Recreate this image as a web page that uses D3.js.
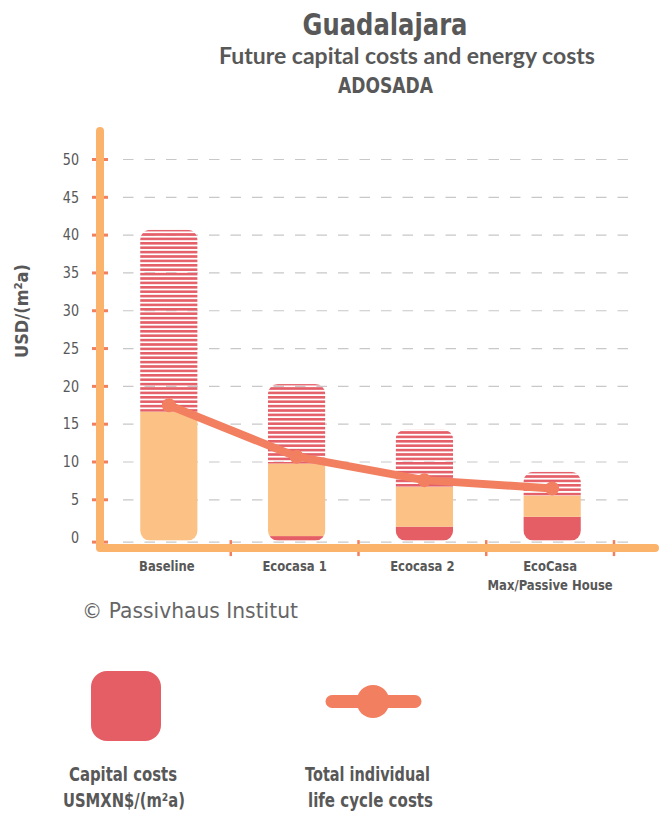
<!DOCTYPE html>
<html>
<head>
<meta charset="utf-8">
<script src="https://cdn.jsdelivr.net/npm/d3@7/dist/d3.min.js"></script>
<style>
  html, body { margin: 0; padding: 0; background: #fff; }
  svg { display: block; }
  text { font-family: "DejaVu Sans", sans-serif; fill: #585858; }
  .lato { font-family: Lato, "DejaVu Sans", sans-serif; }
</style>
</head>
<body>
<svg id="chart" width="661" height="814"></svg>
<script>
// ---------- data ----------
const categories = ["Baseline", "Ecocasa 1", "Ecocasa 2", "EcoCasa\nMax/Passive House"];
const capitalCosts = [0, 0.2, 1.45, 2.75];          // solid red segment
const otherCosts   = [16.65, 9.6, 5.25, 2.8];        // light orange segment
const energyCosts  = [24.05, 10.5, 7.6, 3.15];       // striped segment
const lifeCycleCosts = [17.5, 10.7, 7.6, 6.5];       // line
const yTicks = [0, 5, 10, 15, 20, 25, 30, 35, 40, 45, 50];

const colors = {
  capital: "#E55E65",
  other: "#FBC185",
  energy: "#E45F68",
  line: "#F27F60",
  axis: "#FBB36B",
  tick: "#F2805F",
  grid: "#C8C8C8"
};

const svg = d3.select("#chart");
const defs = svg.append("defs");

// scales
const y = d3.scaleLinear().domain([0, 50]).range([537.6, 159.5]);
const x = d3.scaleBand().domain(categories).range([103, 614]).paddingInner(0).paddingOuter(0);
const barW = x.bandwidth() * 0.45;
const zeroShift = 4.5;

// stripe pattern
const pat = defs.append("pattern")
  .attr("id", "stripes")
  .attr("patternUnits", "userSpaceOnUse")
  .attr("width", 8).attr("height", 4.4);
pat.append("rect").attr("x", 0).attr("y", 0).attr("width", 8).attr("height", 2.6).attr("fill", colors.energy);

// helpers: fixed length / condensed text
function fitText(sel, len) {
  sel.attr("textLength", len).attr("lengthAdjust", "spacingAndGlyphs");
  return sel;
}
function condense(sel, f) {
  sel.each(function() {
    const n = this.getComputedTextLength();
    d3.select(this).attr("textLength", n * f).attr("lengthAdjust", "spacingAndGlyphs");
  });
  return sel;
}

// ---------- titles ----------
fitText(svg.append("text").attr("x", 385).attr("y", 35).attr("text-anchor", "middle")
  .style("font-size", "30px").style("font-weight", "bold").text("Guadalajara"), 165);
svg.append("text").attr("class", "lato").attr("x", 407).attr("y", 64).attr("text-anchor", "middle")
  .style("font-size", "23px").style("font-weight", "bold")
  .text("Future capital costs and energy costs");
fitText(svg.append("text").attr("x", 385.5).attr("y", 93).attr("text-anchor", "middle")
  .style("font-size", "21px").style("font-weight", "bold").text("ADOSADA"), 95);

// ---------- gridlines ----------
const gy = v => v === 0 ? y(0) + zeroShift : y(v);
svg.append("g").selectAll("line").data(yTicks).join("line")
  .attr("x1", 123).attr("x2", 632)
  .attr("y1", gy).attr("y2", gy)
  .attr("stroke", colors.grid).attr("stroke-width", 1.2)
  .attr("stroke-dasharray", "10.5,11");

// ---------- bars ----------
const bars = categories.map((c, i) => {
  const c0 = capitalCosts[i], c1 = c0 + otherCosts[i], c2 = c1 + energyCosts[i];
  return { c, i, segs: [
    { from: 0, to: c0, fill: colors.capital },
    { from: c0, to: c1, fill: colors.other },
    { from: c1, to: c2, fill: "url(#stripes)" }
  ], total: c2 };
});

bars.forEach(b => {
  const bx = x(b.c) + (x.bandwidth() - barW) / 2 + 2;
  const bottom = y(0) + 3;
  defs.append("clipPath").attr("id", "clip" + b.i)
    .append("rect")
    .attr("x", bx).attr("y", y(b.total))
    .attr("width", barW).attr("height", bottom - y(b.total))
    .attr("rx", 10).attr("ry", 10);
  const g = svg.append("g").attr("clip-path", `url(#clip${b.i})`);
  b.segs.forEach(s => {
    if (s.to - s.from <= 0) return;
    const top = y(s.to);
    const bot = s.from === 0 ? bottom : y(s.from);
    g.append("rect").attr("x", bx).attr("y", top)
      .attr("width", barW).attr("height", bot - top)
      .attr("fill", s.fill);
  });
});

// ---------- axes ----------
svg.append("g").selectAll("line").data(yTicks).join("line")
  .attr("x1", 92).attr("x2", 108)
  .attr("y1", gy).attr("y2", gy)
  .attr("stroke", colors.tick).attr("stroke-width", 3);
condense(svg.append("g").selectAll("text").data(yTicks).join("text")
  .attr("x", 79).attr("y", d => y(d)).attr("dy", "0.35em")
  .attr("text-anchor", "end")
  .style("font-size", "15px")
  .text(d => d), 0.85);

// x ticks (band boundaries)
svg.append("g").selectAll("line").data(categories).join("line")
  .attr("x1", d => x(d) + x.bandwidth()).attr("x2", d => x(d) + x.bandwidth())
  .attr("y1", y(0) + 2.5).attr("y2", y(0) + 18.5)
  .attr("stroke", colors.tick).attr("stroke-width", 2.5);

// axis lines
svg.append("path")
  .attr("d", `M100,131 L100,${y(0) + 10.4} L655,${y(0) + 10.4}`)
  .attr("fill", "none").attr("stroke", colors.axis).attr("stroke-width", 8)
  .attr("stroke-linecap", "round").attr("stroke-linejoin", "round");

// x labels
categories.forEach(d => {
  d.split("\n").forEach((p, j) => {
    condense(svg.append("text")
      .attr("x", x(d) + x.bandwidth() / 2)
      .attr("y", 571 + j * 19)
      .attr("text-anchor", "middle")
      .style("font-size", "13.5px").style("font-weight", "bold")
      .text(p), 0.86);
  });
});

// y label
condense(svg.append("text")
  .attr("transform", "translate(28,311) rotate(-90)")
  .attr("text-anchor", "middle")
  .style("font-size", "18px").style("font-weight", "bold")
  .text("USD/(m²a)"), 0.9);

// ---------- line ----------
const pts = categories.map((c, i) => [x(c) + x.bandwidth() / 2 + 2, y(lifeCycleCosts[i])]);
svg.append("path")
  .attr("d", d3.line()(pts))
  .attr("fill", "none").attr("stroke", colors.line).attr("stroke-width", 8)
  .attr("stroke-linecap", "round").attr("stroke-linejoin", "round");
svg.append("g").selectAll("circle").data(pts).join("circle")
  .attr("cx", d => d[0]).attr("cy", d => d[1]).attr("r", 7)
  .attr("fill", colors.line);

// ---------- copyright ----------
fitText(svg.append("text").attr("x", 82).attr("y", 618)
  .style("font-size", "22px").style("fill", "#666")
  .text("© Passivhaus Institut"), 216);

// ---------- legend ----------
svg.append("rect").attr("x", 91).attr("y", 671).attr("width", 70).attr("height", 70)
  .attr("rx", 16).attr("fill", colors.capital);
svg.append("line").attr("x1", 332).attr("x2", 415).attr("y1", 701.5).attr("y2", 701.5)
  .attr("stroke", colors.line).attr("stroke-width", 13).attr("stroke-linecap", "round");
svg.append("circle").attr("cx", 373).attr("cy", 701.5).attr("r", 16.5).attr("fill", colors.line);

const legText = [
  { x: [123, 124], lines: ["Capital costs", "USMXN$/(m²a)"], lens: [108, 122] },
  { x: [367.5, 370.5], lines: ["Total individual", "life cycle costs"], lens: [125, 125] }
];
legText.forEach(l => {
  l.lines.forEach((t, j) => {
    fitText(svg.append("text").attr("x", l.x[j]).attr("y", 781 + j * 26)
      .attr("text-anchor", "middle")
      .style("font-size", "19px").style("font-weight", "bold")
      .text(t), l.lens[j]);
  });
});
</script>
</body>
</html>
